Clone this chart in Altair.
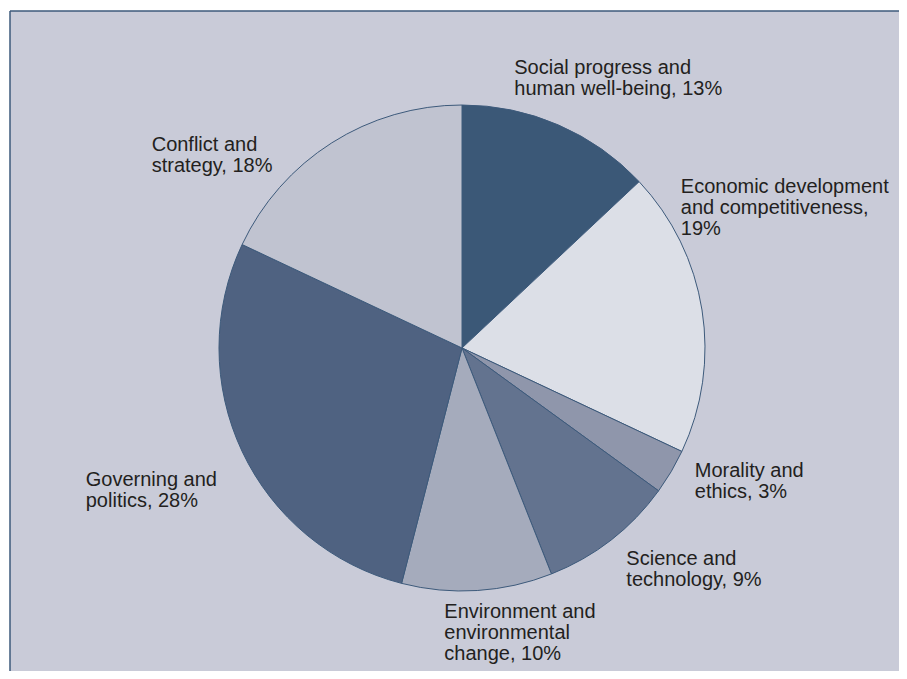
import altair as alt

# ---- data -------------------------------------------------------------
categories = [
    "Social progress and human well-being",
    "Economic development and competitiveness",
    "Morality and ethics",
    "Science and technology",
    "Environment and environmental change",
    "Governing and politics",
    "Conflict and strategy",
]
shares = [13, 19, 3, 9, 10, 28, 18]
label_lines = [
    ["Social progress and", "human well-being, 13%"],
    ["Economic development", "and competitiveness,", "19%"],
    ["Morality and", "ethics, 3%"],
    ["Science and", "technology, 9%"],
    ["Environment and", "environmental", "change, 10%"],
    ["Governing and", "politics, 28%"],
    ["Conflict and", "strategy, 18%"],
]
slice_colors = ["#3b5877", "#dcdfe7", "#8f96ab", "#63738f", "#a5abbc", "#4f6281", "#c0c3d0"]

records = [
    {"idx": i, "category": c, "value": v, "label": l}
    for i, (c, v, l) in enumerate(zip(categories, shares, label_lines))
]
total = sum(shares)

# ---- layout / style ---------------------------------------------------
W, H = 889, 660
CX, CY = 452, 337
R = 243
BG = "#c9cbd8"
EDGE = "#3d5a7b"
FONT = "Liberation Sans"

# label offsets (dx, dy) of the first line from the anchor at the slice mid-angle
offsets = {
    categories[0]: (-51, -41),
    categories[1]: (-38, -120),
    categories[2]: (9, -9),
    categories[3]: (5, 6),
    categories[4]: (-34, 5),
    categories[5]: (-141, 21),
    categories[6]: (-171, 17),
}

base = alt.Chart(alt.Data(values=records)).transform_window(
    cum="sum(value)", sort=[alt.SortField("idx")]
).transform_calculate(mid="datum.cum - datum.value / 2")

theta_scale = alt.Scale(domain=[0, total])

arcs = base.mark_arc(outerRadius=R, stroke=EDGE, strokeWidth=1).encode(
    theta=alt.Theta("value:Q", stack=True, scale=theta_scale),
    color=alt.Color("category:N", scale=alt.Scale(domain=categories, range=slice_colors), legend=None),
    order=alt.Order("idx:Q"),
    x=alt.value(CX),
    y=alt.value(CY),
)

label_layers = []
for cat in categories:
    dx, dy = offsets[cat]
    lay = base.transform_filter(alt.datum.category == cat).mark_text(
        align="left", baseline="middle", font=FONT, fontSize=20, lineHeight=21,
        color="#231f20", dx=dx, dy=dy,
    ).encode(
        theta=alt.Theta("mid:Q", stack=False, scale=theta_scale),
        radius=alt.value(260),
        x=alt.value(CX),
        y=alt.value(CY),
        text=alt.Text("label:N"),
    )
    label_layers.append(lay)

one = alt.Data(values=[{"k": 0}])
left_edge = alt.Chart(one).mark_rule(color=EDGE, strokeWidth=1.5).encode(
    x=alt.value(0), y=alt.value(0), y2=alt.value(H)
)
top_edge = alt.Chart(one).mark_rule(color=EDGE, strokeWidth=1.5).encode(
    x=alt.value(0), x2=alt.value(W), y=alt.value(0)
)

chart = alt.layer(arcs, *label_layers, left_edge, top_edge).properties(
    width=W, height=H,
    padding={"left": 2, "top": 3, "right": 0, "bottom": 0},
    autosize=alt.AutoSizeParams(type="none"),
).configure_view(fill=BG, strokeWidth=0)

chart.save("out.html", embed_options={"renderer": "svg", "actions": False})
